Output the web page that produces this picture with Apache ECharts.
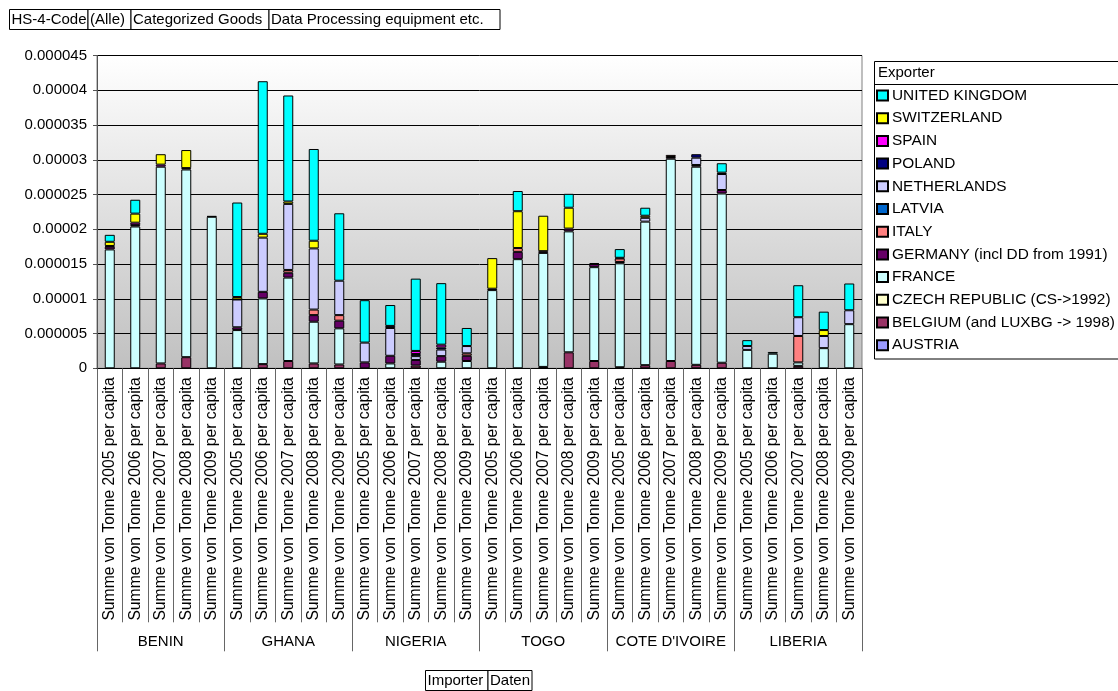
<!DOCTYPE html>
<html>
<head>
<meta charset="utf-8">
<script src="https://cdn.jsdelivr.net/npm/echarts@6/dist/echarts.min.js"></script>
<style>
html,body{margin:0;padding:0;background:#fff;}
#main{width:1118px;height:691px;}
</style>
</head>
<body>
<div id="main"></div>
<script>
// values in millionths (x 1e-6) per capita
const importers = ['BENIN','GHANA','NIGERIA','TOGO',"COTE D'IVOIRE",'LIBERIA'];
const years = ['2005','2006','2007','2008','2009'];
const yTicks = [0,5,10,15,20,25,30,35,40,45];

// order of categories: BENIN 05-09, GHANA 05-09, NIGERIA 05-09, TOGO 05-09, COTE D'IVOIRE 05-09, LIBERIA 05-09
const austria     = [0,0,0,0,0,      0,0,0,0,0,        0,0,0,0,0,          0,0,0,0,0,         0,0,0,0,0,            0,0,0,0,0];
const belgium     = [0,0,0.7,1.6,0,  0,0.6,1.05,0.7,0.55, 0,0,0.4,0,0,       0,0,0.2,2.3,1.05,  0.15,0.45,1.05,0.5,0.8, 0,0,0.35,0,0];
const czech       = [0,0,0,0,0,      0,0,0,0,0,        0,0,0,0,0,          0,0,0,0,0,         0,0,0,0,0,            0,0,0,0,0];
const france      = [17.1,20.4,28.3,27.0,21.8, 5.5,9.45,12.0,6.0,5.2, 0,0.7,0,0.95,1.05, 11.25,15.7,16.4,17.4,13.5, 14.95,20.65,29.1,28.5,24.35, 2.65,2.1,0.5,2.9,6.35];
const germany     = [0.4,0.2,0,0.2,0.1, 0.4,0.95,0.7,0.95,1.1, 0.85,1.1,0.8,0.8,0.75, 0,1.05,0.25,0.4,0.45, 0.2,0,0.25,0.25,0.5, 0,0,0,0,0];
const italy       = [0,0,0,0,0,      0,0,0.4,0.8,0.8,  0,0,0,0,0.35,       0,0.55,0,0,0.15,   0.5,0,0.3,0,0,        0,0,3.8,0,0];
const latvia      = [0,0,0,0,0,      0,0,0,0,0,        0,0,0,0,0,          0,0,0,0,0,         0,0,0,0,0,            0,0,0,0,0];
const netherlands = [0,0,0,0,0,      4.0,7.8,9.5,8.8,4.95, 2.85,4.0,0.55,0.95,1.05, 0,0,0,0,0,    0,0.55,0,1.05,2.3,    0.55,0,2.7,1.75,2.0];
const poland      = [0,0,0,0,0,      0,0,0,0,0,        0,0.3,0.3,0.3,0,    0.2,0,0,0,0,       0.1,0,0,0.5,0.2,      0,0,0,0,0];
const spain       = [0.1,0.35,0.3,0,0, 0,0,0,0,0,      0,0,0.45,0.4,0,     0,0,0,0,0,         0,0,0,0,0,            0,0,0,0,0];
const switzerland = [0.6,1.3,1.5,2.6,0, 0.35,0.55,0.35,1.1,0, 0,0,0,0,0,   4.4,5.3,5.1,3.0,0, 0,0.3,0,0,0,          0,0,0,0.85,0];
const uk          = [1.0,2.0,0,0,0,  13.6,21.95,15.25,13.2,9.7, 6.1,3.0,10.4,8.85,2.6, 0,2.9,0,2.0,0, 1.25,1.15,0,0,1.35, 0.85,0.25,4.6,2.65,3.85];

const exporters = [
  {name:'AUSTRIA', data:austria, color:'#9999FF'},
  {name:'BELGIUM (and LUXBG -> 1998)', data:belgium, color:'#993366'},
  {name:'CZECH REPUBLIC (CS->1992)', data:czech, color:'#FFFFCC'},
  {name:'FRANCE', data:france, color:'#CCFFFF'},
  {name:'GERMANY (incl DD from 1991)', data:germany, color:'#660066'},
  {name:'ITALY', data:italy, color:'#FF8080'},
  {name:'LATVIA', data:latvia, color:'#0066CC'},
  {name:'NETHERLANDS', data:netherlands, color:'#CCCCFF'},
  {name:'POLAND', data:poland, color:'#000080'},
  {name:'SPAIN', data:spain, color:'#FF00FF'},
  {name:'SWITZERLAND', data:switzerland, color:'#FFFF00'},
  {name:'UNITED KINGDOM', data:uk, color:'#00FFFF'}
];

const categories = [];
importers.forEach(() => years.forEach(y => categories.push('Summe von Tonne ' + y + ' per capita')));

const FONT = "'Liberation Sans', Arial, sans-serif";
const chart = echarts.init(document.getElementById('main'), null, {renderer:'canvas'});

const series = exporters.map(e => ({
  name: e.name,
  type: 'bar',
  stack: 'total',
  barWidth: 10,
  data: e.data.map(v => v === 0 ? null : v),
  itemStyle: {color: e.color, borderColor: '#000', borderWidth: 1},
  emphasis: {disabled: true}
}));

function hdrBox(x, y, w, h, text) {
  return [
    {type:'rect', shape:{x:x, y:y, width:w, height:h}, style:{fill:'#fff', stroke:'#000', lineWidth:1}},
    {type:'text', x:x+2, y:y+h/2, style:{text:text, font:'15px ' + FONT, fill:'#000', textVerticalAlign:'middle', verticalAlign:'middle'}}
  ];
}

const graphics = [].concat(
  hdrBox(9.5, 9.5, 78.5, 20, 'HS-4-Code'),
  hdrBox(88, 9.5, 43, 20, '(Alle)'),
  hdrBox(131, 9.5, 138, 20, 'Categorized Goods'),
  hdrBox(269, 9.5, 231, 20, 'Data Processing equipment etc.'),
  hdrBox(425.5, 670.5, 62.5, 20, 'Importer'),
  hdrBox(488, 670.5, 44, 20, 'Daten'),
  [
    {type:'rect', z:-1, shape:{x:874.5, y:61.5, width:260, height:297.5}, style:{fill:'#fff', stroke:'#000', lineWidth:1}},
    {type:'line', shape:{x1:874.5, y1:84.5, x2:1118, y2:84.5}, style:{stroke:'#000', lineWidth:1}},
    {type:'text', x:878, y:73, style:{text:'Exporter', font:'15px ' + FONT, fill:'#000', textVerticalAlign:'middle', verticalAlign:'middle'}}
  ]
);

const option = {
  animation: false,
  textStyle: {fontFamily: FONT, color:'#000'},
  grid: {
    left: 97, right: 256, top: 55.5, bottom: 322.7,
    show: true,
    borderColor: '#808080', borderWidth: 1,
    backgroundColor: new echarts.graphic.LinearGradient(0,0,0,1,[{offset:0,color:'#FFFFFF'},{offset:1,color:'#C0C0C0'}])
  },
  legend: {
    data: exporters.map(e => e.name).reverse(),
    orient: 'vertical',
    left: 876, top: 87.5,
    padding: 0,
    itemWidth: 11, itemHeight: 10,
    itemGap: 6.7,
    icon: 'rect',
    selectedMode: false,
    textStyle: {fontSize: 15.4, fontFamily: FONT, color:'#000', lineHeight: 16, padding:[0,0,0,-1]}
  },
  xAxis: [
    {
      type: 'category',
      data: categories,
      axisLine: {show: true, lineStyle: {color:'#000', width:1}},
      axisTick: {show: true, interval: 0, length: 254, lineStyle: {color:'#666'}},
      axisLabel: {interval: 0, rotate: 90, margin: 9, fontSize: 15.7, fontFamily: FONT, color:'#000'},
      z: 3
    },
    {
      type: 'category',
      position: 'bottom',
      data: importers,
      axisLine: {show: false},
      axisTick: {show: true, interval: 0, length: 283, lineStyle: {color:'#666'}},
      axisLabel: {interval: 0, margin: 266, fontSize: 15, fontFamily: FONT, color:'#000'},
      splitLine: {show: false}
    }
  ],
  yAxis: {
    type: 'value',
    min: 0, max: 45, interval: 5,
    axisLine: {show: true, lineStyle: {color:'#555'}},
    axisTick: {show: true, length: 4, lineStyle: {color:'#555'}},
    axisLabel: {
      margin: 10, fontSize: 15, fontFamily: FONT, color:'#000',
      formatter: v => v === 0 ? '0' : String(parseFloat((v * 1e-6).toFixed(7)))
    },
    splitLine: {show: true, lineStyle: {color:'#000', width:1}}
  },
  series: series,
  graphic: graphics
};
chart.setOption(option);
</script>
</body>
</html>
